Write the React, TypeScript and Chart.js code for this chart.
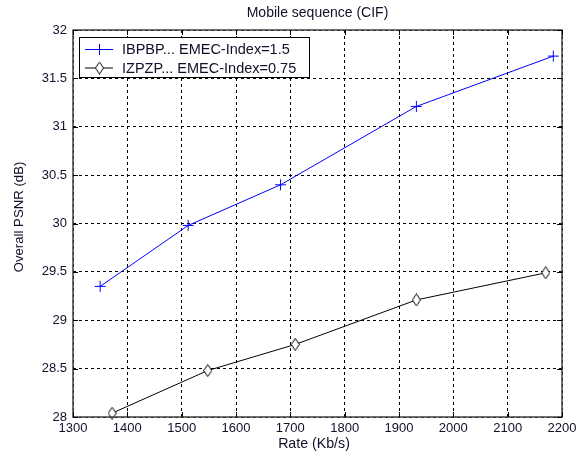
import { useEffect, useRef } from 'react';
import { Chart, registerables } from 'chart.js';

Chart.register(...registerables);

const chartTitle = 'Mobile sequence (CIF)';
const xTitle = 'Rate (Kb/s)';
const yTitle = 'Overall PSNR (dB)';
const seriesLabels = ['IBPBP... EMEC-Index=1.5', 'IZPZP... EMEC-Index=0.75'];

const rateIBPBP = [1350, 1512, 1682, 1932, 2184];
const psnrIBPBP = [29.35, 29.98, 30.4, 31.21, 31.73];
const rateIZPZP = [1372, 1548, 1709, 1932, 2170];
const psnrIZPZP = [28.04, 28.48, 28.75, 29.21, 29.49];

const xTicks = [1300, 1400, 1500, 1600, 1700, 1800, 1900, 2000, 2100, 2200];
const yTicks = [28, 28.5, 29, 29.5, 30, 30.5, 31, 31.5, 32];

const FONT = '"Liberation Sans", Arial, sans-serif';
const TEXT = '#10102a';

function makeDiamond(): HTMLCanvasElement {
  const c = document.createElement('canvas');
  c.width = 9;
  c.height = 13;
  const g = c.getContext('2d')!;
  g.beginPath();
  g.moveTo(4.5, 0.5);
  g.lineTo(8.5, 6.5);
  g.lineTo(4.5, 12.5);
  g.lineTo(0.5, 6.5);
  g.closePath();
  g.fillStyle = '#ffffff';
  g.fill();
  g.strokeStyle = '#000000';
  g.lineWidth = 1;
  g.stroke();
  return c;
}

export default function App() {
  const ref = useRef<HTMLCanvasElement>(null);

  useEffect(() => {
    if (!ref.current) return;
    const diamond = makeDiamond();

    const decor = {
      id: 'decor',
      afterDraw(chart: any) {
        const { ctx, chartArea } = chart;
        const { left, right, top, bottom } = chartArea;
        const xs = chart.scales.x;
        const ys = chart.scales.y;
        ctx.save();
        // frame
        ctx.strokeStyle = '#404040';
        ctx.lineWidth = 1.5;
        ctx.setLineDash([]);
        ctx.strokeRect(left, top, right - left, bottom - top);
        // inward ticks
        ctx.lineWidth = 1;
        ctx.strokeStyle = '#000';
        ctx.beginPath();
        for (const v of xTicks) {
          const px = Math.round(xs.getPixelForValue(v)) + 0.5;
          ctx.moveTo(px, bottom);
          ctx.lineTo(px, bottom - 5);
          ctx.moveTo(px, top);
          ctx.lineTo(px, top + 5);
        }
        for (const v of yTicks) {
          const py = Math.round(ys.getPixelForValue(v)) + 0.5;
          ctx.moveTo(left, py);
          ctx.lineTo(left + 5, py);
          ctx.moveTo(right, py);
          ctx.lineTo(right - 5, py);
        }
        ctx.stroke();

        // titles
        ctx.fillStyle = TEXT;
        ctx.textAlign = 'center';
        ctx.textBaseline = 'middle';
        ctx.font = `14px ${FONT}`;
        ctx.fillText(chartTitle, (left + right) / 2, 13);
        ctx.font = `14.2px ${FONT}`;
        ctx.fillText(xTitle, 314, 444);
        ctx.save();
        ctx.translate(19.5, 217);
        ctx.rotate(-Math.PI / 2);
        ctx.font = `13.2px ${FONT}`;
        ctx.fillText(yTitle, 0, 0);
        ctx.restore();

        // legend
        const lx = left + 6;
        const ly = top + 7;
        const lw = 230;
        const lh = 40;
        ctx.fillStyle = '#fff';
        ctx.fillRect(lx, ly, lw, lh);
        ctx.strokeStyle = '#000';
        ctx.lineWidth = 1;
        ctx.strokeRect(lx + 0.5, ly + 0.5, lw, lh);
        const rows = [
          { y: 49, color: '#0000ff', marker: 'cross' },
          { y: 67.5, color: '#000000', marker: 'diamond' },
        ];
        rows.forEach((r, i) => {
          ctx.strokeStyle = r.color;
          ctx.lineWidth = 1;
          ctx.beginPath();
          ctx.moveTo(lx + 6, r.y + 0.5);
          ctx.lineTo(lx + 34, r.y + 0.5);
          ctx.stroke();
          const mx = lx + 20;
          if (r.marker === 'cross') {
            ctx.beginPath();
            ctx.moveTo(mx + 0.5, r.y - 5);
            ctx.lineTo(mx + 0.5, r.y + 6);
            ctx.stroke();
          } else {
            ctx.drawImage(diamond, mx - 4, r.y - 6);
          }
          ctx.fillStyle = TEXT;
          ctx.font = `14.5px ${FONT}`;
          ctx.textAlign = 'left';
          ctx.textBaseline = 'middle';
          ctx.fillText(seriesLabels[i], lx + 43, r.y + 1);
        });
        ctx.restore();
      },
    };

    const chart = new Chart(ref.current, {
      type: 'line',
      data: {
        datasets: [
          {
            label: seriesLabels[0],
            data: rateIBPBP.map((x, i) => ({ x, y: psnrIBPBP[i] })),
            borderColor: '#0000ff',
            borderWidth: 1,
            backgroundColor: 'transparent',
            pointStyle: 'cross',
            pointRadius: 5.5,
            pointBorderColor: '#0000ff',
            pointBorderWidth: 1,
            tension: 0,
            clip: false as any,
          },
          {
            label: seriesLabels[1],
            data: rateIZPZP.map((x, i) => ({ x, y: psnrIZPZP[i] })),
            borderColor: '#000000',
            borderWidth: 1,
            backgroundColor: 'transparent',
            pointStyle: diamond as any,
            pointRadius: 5,
            tension: 0,
            clip: false as any,
          },
        ],
      },
      options: {
        animation: false,
        responsive: false,
        devicePixelRatio: 1,
        layout: { padding: { top: 30, right: 20, left: 0, bottom: 0 } },
        plugins: {
          legend: { display: false },
          title: { display: false },
          tooltip: { enabled: false },
        },
        scales: {
          x: {
            type: 'linear',
            min: 1300,
            max: 2200,
            afterBuildTicks: (s: any) => {
              s.ticks = xTicks.map((v) => ({ value: v }));
            },
            afterFit: (s: any) => {
              s.height = 37;
            },
            ticks: {
              color: TEXT,
              font: { family: FONT, size: 13 },
              padding: 4,
              maxRotation: 0,
              autoSkip: false,
              callback: (v: any) => String(v),
            },
            grid: { color: '#000', lineWidth: 1, drawTicks: false },
            border: { display: false, dash: [3, 3] },
          },
          y: {
            type: 'linear',
            min: 28,
            max: 32,
            afterBuildTicks: (s: any) => {
              s.ticks = yTicks.map((v) => ({ value: v }));
            },
            afterFit: (s: any) => {
              s.width = 73;
            },
            ticks: {
              color: TEXT,
              font: { family: FONT, size: 13 },
              padding: 6,
              autoSkip: false,
              callback: (v: any) => String(v),
            },
            grid: { color: '#000', lineWidth: 1, drawTicks: false },
            border: { display: false, dash: [3, 3] },
          },
        },
      },
      plugins: [decor],
    });
    return () => chart.destroy();
  }, []);

  return (
    <div style={{ position: 'fixed', left: 0, top: 0, width: 582, height: 454, background: '#fff' }}>
      <canvas ref={ref} width={582} height={454} />
    </div>
  );
}
